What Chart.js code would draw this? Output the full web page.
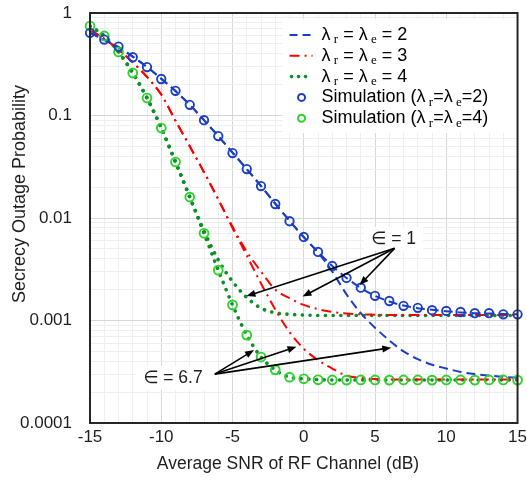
<!DOCTYPE html>
<html>
<head>
<meta charset="utf-8">
<script src="https://cdn.jsdelivr.net/npm/chart.js@4.4.1/dist/chart.umd.min.js"></script>
<style>
  body { margin: 0; background: #fff; }
  #wrap { width: 527px; height: 483px; }
</style>
</head>
<body>
<div id="wrap"><canvas id="myChart"></canvas></div>
<script>
const snr = [-15, -14, -13, -12, -11, -10, -9, -8, -7, -6, -5, -4, -3, -2, -1, 0,
             1, 2, 3, 4, 5, 6, 7, 8, 9, 10, 11, 12, 13, 14, 15];

// analytical curves (lambda_r = lambda_e), eps = 1 and eps = 6.7
const lam2Eps1 = [0.64, 0.548, 0.465, 0.375, 0.297, 0.228, 0.173, 0.127, 0.090, 0.063, 0.0435,
                  0.030, 0.0205, 0.0138, 0.0094, 0.0065, 0.00468, 0.0034, 0.0026, 0.00208, 0.00174,
                  0.00153, 0.0014, 0.00132, 0.00127, 0.00123, 0.0012, 0.00118, 0.00117, 0.00116, 0.00115];
const lam2Eps67 = [0.64, 0.548, 0.465, 0.375, 0.297, 0.228, 0.173, 0.127, 0.090, 0.063, 0.0435,
                   0.030, 0.0205, 0.0138, 0.0094, 0.0065, 0.0046, 0.003, 0.0018, 0.00118, 0.00085,
                   0.00064, 0.0005, 0.00042, 0.00037, 0.00034, 0.000315, 0.0003, 0.00029, 0.000282, 0.000277];
const lam3Eps1 = [0.68, 0.56, 0.44, 0.33, 0.238, 0.16, 0.089, 0.05, 0.028, 0.0152, 0.0082,
                  0.0047, 0.003, 0.002, 0.00165, 0.00142, 0.00129, 0.00121, 0.00117, 0.00115, 0.00114,
                  0.00113, 0.00113, 0.00113, 0.00113, 0.00113, 0.00113, 0.00113, 0.00113, 0.00113, 0.00113];
const lam3Eps67 = [0.68, 0.56, 0.44, 0.33, 0.238, 0.16, 0.089, 0.05, 0.028, 0.0152, 0.008,
                   0.0043, 0.0023, 0.00128, 0.00077, 0.00053, 0.00041, 0.00034, 0.00029, 0.000275, 0.000268,
                   0.000265, 0.000265, 0.000265, 0.000265, 0.000265, 0.000265, 0.000265, 0.000265, 0.000265, 0.000265];
const lam4Eps1 = [0.746, 0.597, 0.417, 0.26, 0.148, 0.0755, 0.0352, 0.016, 0.0075, 0.0039, 0.0024,
                  0.00168, 0.00132, 0.00119, 0.00115, 0.00113, 0.00112, 0.00112, 0.00112, 0.00112, 0.00112,
                  0.00112, 0.00112, 0.00112, 0.00112, 0.00112, 0.00112, 0.00112, 0.00112, 0.00112, 0.00112];
const lam4Eps67 = [0.746, 0.597, 0.417, 0.26, 0.148, 0.0755, 0.0352, 0.016, 0.0071, 0.0031, 0.00142,
                   0.00072, 0.00044, 0.00033, 0.00028, 0.00027, 0.000265, 0.000263, 0.000263, 0.000263, 0.000263,
                   0.000263, 0.000263, 0.000263, 0.000263, 0.000263, 0.000263, 0.000263, 0.000263, 0.000263, 0.000263];

// simulation points
const simLam2 = [0.64, 0.55, 0.47, 0.37, 0.297, 0.227, 0.174, 0.127, 0.090, 0.063, 0.043,
                 0.030, 0.0205, 0.0137, 0.0093, 0.00653, 0.00467, 0.0034, 0.0026, 0.00209, 0.00174,
                 0.00155, 0.00139, 0.00133, 0.00126, 0.00124, 0.00121, 0.00118, 0.00118, 0.00115, 0.00115];
const simLam4 = [0.746, 0.597, 0.417, 0.26, 0.148, 0.0755, 0.0352, 0.016, 0.0071, 0.0031, 0.00142,
                 0.00072, 0.00044, 0.00033, 0.00028, 0.00027, 0.000264, 0.000263, 0.000262, 0.000263, 0.000263,
                 0.000262, 0.000263, 0.000263, 0.000262, 0.000263, 0.000263, 0.000262, 0.000263, 0.000263, 0.000262];

const xTicks = [-15, -10, -5, 0, 5, 10, 15];
const yDecades = [0.0001, 0.001, 0.01, 0.1, 1];

const BLUE = "#1b3fc4";
const RED = "#ff0000";
const GREEN = "#0c8f26";
const LIME = "#2ed12e";
const FONT = "'Liberation Sans', 'DejaVu Sans', Arial, sans-serif";
const SERIF = "'Liberation Serif', 'DejaVu Serif', serif";
const INK = "#1e1e1e";

const pts = arr => arr.map((v, i) => ({x: snr[i], y: v}));

const epsNotes = [
    {text: "\u2208 = 1", at: [6.3, 0.00624], from: [6.37, 0.00506],
     to: [[-4.02, 0.00173], [-0.09, 0.00171], [3.92, 0.00222]]},
    {text: "\u2208 = 6.7", at: [-9.18, 0.000275], from: [-6.24, 0.0003],
     to: [[-3.49, 0.000515], [-0.51, 0.000555], [6.14, 0.000543]]}
];

const legendRows = [
    {type: "line", color: BLUE, dash: [8, 5], width: 2, parts: [["\u03bb"], [" r", 1], [" = \u03bb"], [" e", 1], [" = 2"]]},
    {type: "line", color: RED, dash: [10, 5, 2, 5], width: 2, parts: [["\u03bb"], [" r", 1], [" = \u03bb"], [" e", 1], [" = 3"]]},
    {type: "dots", color: GREEN, parts: [["\u03bb"], [" r", 1], [" = \u03bb"], [" e", 1], [" = 4"]]},
    {type: "circle", color: BLUE, parts: [["Simulation (\u03bb"], [" r", 1], ["=\u03bb"], [" e", 1], ["=2)"]]},
    {type: "circle", color: LIME, parts: [["Simulation (\u03bb"], [" r", 1], ["=\u03bb"], [" e", 1], ["=4)"]]}
];

function arrow(ctx, x0, y0, x1, y1) {
    const a = Math.atan2(y1 - y0, x1 - x0);
    const hl = 9, hw = 3.5;
    const c = Math.cos(a), s = Math.sin(a);
    ctx.beginPath();
    ctx.moveTo(x0, y0);
    ctx.lineTo(x1 - hl * 0.7 * c, y1 - hl * 0.7 * s);
    ctx.stroke();
    ctx.beginPath();
    ctx.moveTo(x1, y1);
    ctx.lineTo(x1 - hl * c + hw * s, y1 - hl * s - hw * c);
    ctx.lineTo(x1 - hl * c - hw * s, y1 - hl * s + hw * c);
    ctx.closePath();
    ctx.fill();
}

const overlay = {
    id: "overlay",
    afterDatasetsDraw(chart) {
        const {ctx, chartArea: a, scales: {x, y}} = chart;
        ctx.save();

        // epsilon notes with arrows
        ctx.font = "17.5px " + FONT;
        ctx.textAlign = "center";
        ctx.textBaseline = "middle";
        epsNotes.forEach(n => {
            const tx = x.getPixelForValue(n.at[0]);
            const ty = y.getPixelForValue(n.at[1]);
            const w = ctx.measureText(n.text).width + 14;
            ctx.fillStyle = "#fff";
            ctx.fillRect(tx - w / 2, ty - 12, w, 24);
            ctx.fillStyle = INK;
            ctx.fillText(n.text, tx, ty);
            const fx = x.getPixelForValue(n.from[0]);
            const fy = y.getPixelForValue(n.from[1]);
            ctx.strokeStyle = "#000";
            ctx.fillStyle = "#000";
            ctx.lineWidth = 1.6;
            n.to.forEach(t => arrow(ctx, fx, fy, x.getPixelForValue(t[0]), y.getPixelForValue(t[1])));
        });

        // legend
        const bx = a.right - 235, by = a.top + 6;
        ctx.fillStyle = "#fff";
        ctx.fillRect(bx, by, a.right - bx, 114);
        legendRows.forEach((r, i) => {
            const cy = a.top + 22 + i * 20.8;
            const sx = bx + 7;
            ctx.strokeStyle = r.color;
            ctx.fillStyle = r.color;
            if (r.type === "line") {
                ctx.lineWidth = r.width;
                ctx.setLineDash(r.dash);
                ctx.beginPath();
                ctx.moveTo(sx, cy);
                ctx.lineTo(sx + 23, cy);
                ctx.stroke();
                ctx.setLineDash([]);
            } else if (r.type === "dots") {
                [2, 9, 16].forEach(d => {
                    ctx.beginPath();
                    ctx.arc(sx + d, cy, 1.8, 0, Math.PI * 2);
                    ctx.fill();
                });
            } else {
                ctx.lineWidth = 2;
                ctx.beginPath();
                ctx.arc(sx + 12, cy, 3.5, 0, Math.PI * 2);
                ctx.stroke();
            }
            let px = bx + 39;
            ctx.fillStyle = "#000";
            ctx.textAlign = "left";
            r.parts.forEach(p => {
                if (p[1]) {
                    ctx.font = "13px " + SERIF;
                    ctx.fillText(p[0], px, cy + 5);
                } else {
                    ctx.font = "18px " + FONT;
                    ctx.fillText(p[0], px, cy);
                }
                px += ctx.measureText(p[0]).width;
            });
        });

        // axis titles
        ctx.fillStyle = INK;
        ctx.textAlign = "center";
        ctx.font = "17.5px " + FONT;
        ctx.fillText("Average SNR of RF Channel (dB)", a.left + 198, 464);
        ctx.save();
        ctx.translate(20, a.top + 181);
        ctx.rotate(-Math.PI / 2);
        ctx.font = "18px " + FONT;
        ctx.fillText("Secrecy Outage Probability", 0, 0);
        ctx.restore();

        // plot frame
        ctx.strokeStyle = "#262626";
        ctx.lineWidth = 2;
        ctx.strokeRect(a.left, a.top, a.right - a.left, a.bottom - a.top);
        ctx.restore();
    }
};

Chart.defaults.font.family = FONT;
Chart.defaults.color = INK;

new Chart(document.getElementById("myChart"), {
    type: "line",
    data: {
        datasets: [
            {label: "Simulation 2", data: pts(simLam2), showLine: false, pointRadius: 4.2,
             pointBorderWidth: 1.9, pointBorderColor: BLUE, pointBackgroundColor: "rgba(0,0,0,0)", clip: 10},
            {label: "Simulation 4", data: pts(simLam4), showLine: false, pointRadius: 4.4,
             pointBorderWidth: 1.9, pointBorderColor: LIME, pointBackgroundColor: "rgba(0,0,0,0)", clip: 10},
            {label: "l2e1", data: pts(lam2Eps1), borderColor: BLUE, borderWidth: 2, borderDash: [9, 5], pointRadius: 0},
            {label: "l2e67", data: pts(lam2Eps67), borderColor: BLUE, borderWidth: 2, borderDash: [9, 5], pointRadius: 0},
            {label: "l3e1", data: pts(lam3Eps1), borderColor: RED, borderWidth: 2, borderDash: [10, 5, 2, 5], pointRadius: 0},
            {label: "l3e67", data: pts(lam3Eps67), borderColor: RED, borderWidth: 2, borderDash: [10, 5, 2, 5], pointRadius: 0},
            {label: "l4e1", data: pts(lam4Eps1), borderColor: GREEN, borderWidth: 3.6, borderDash: [0.1, 7.6],
             borderCapStyle: "round", pointRadius: 0},
            {label: "l4e67", data: pts(lam4Eps67), borderColor: GREEN, borderWidth: 3.6, borderDash: [0.1, 7.6],
             borderCapStyle: "round", pointRadius: 0}
        ]
    },
    options: {
        responsive: true,
        maintainAspectRatio: false,
        animation: false,
        cubicInterpolationMode: "monotone",
        layout: {padding: {top: 13, right: 9, left: 0, bottom: 0}},
        plugins: {legend: {display: false}, tooltip: {enabled: false}},
        scales: {
            x: {
                type: "linear",
                min: -15,
                max: 15,
                afterFit: s => { s.height = 60; },
                afterBuildTicks: s => { s.ticks = snr.map(v => ({value: v})); },
                grid: {
                    drawTicks: true,
                    tickLength: 4,
                    tickColor: "rgba(0,0,0,0)",
                    color: c => xTicks.includes(c.tick.value) ? "#d6d6d6" : "#eeeeee"
                },
                border: {display: false},
                ticks: {
                    autoSkip: false,
                    maxRotation: 0,
                    padding: 0,
                    font: {size: 17},
                    callback: v => xTicks.includes(v) ? String(v) : ""
                }
            },
            y: {
                type: "logarithmic",
                min: 0.0001,
                max: 1,
                afterFit: s => { s.width = 90; },
                afterBuildTicks: s => {
                    const t = [];
                    yDecades.forEach((d, i) => {
                        t.push({value: d});
                        if (i < yDecades.length - 1) {
                            for (let m = 2; m <= 9; m++) t.push({value: d * m});
                        }
                    });
                    s.ticks = t;
                },
                grid: {
                    drawTicks: true,
                    tickLength: 18,
                    tickColor: "rgba(0,0,0,0)",
                    color: c => yDecades.includes(c.tick.value) ? "#d6d6d6" : "#eeeeee"
                },
                border: {display: false},
                ticks: {
                    autoSkip: false,
                    padding: 0,
                    font: {size: 17},
                    callback: v => yDecades.includes(v) ? String(v) : ""
                }
            }
        }
    },
    plugins: [overlay]
});
</script>
</body>
</html>
